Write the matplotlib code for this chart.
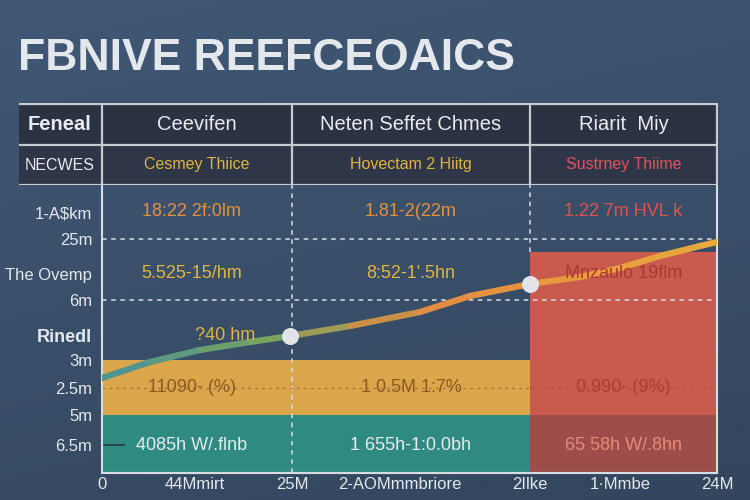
import numpy as np
import matplotlib
matplotlib.use("Agg")
import matplotlib.pyplot as plt
from matplotlib.collections import LineCollection
from matplotlib.colors import LinearSegmentedColormap
from matplotlib.patches import Rectangle

# ---------------- data ----------------
title = "FBNIVE REEFCEOAICS"
header_cols = ["Feneal", "Ceevifen", "Neten Seffet Chmes", "Riarit  Miy"]
sub_cols = ["NECWES", "Cesmey Thiice", "Hovectam 2 Hiitg", "Sustrney Thiime"]
col_edges = [0.0, 1.9, 4.28, 6.15]          # x positions of column boundaries

y_tick_pos = [2.61, 2.34, 1.99, 1.73, 1.38, 1.13, 0.85, 0.58, 0.28]
y_tick_lab = ["1-A$km", "25m", "The Ovemp", "6m", "Rinedl", "3m", "2.5m", "5m", "6.5m"]
x_tick_pos = [0.0, 0.93, 1.9, 2.98, 4.28, 5.18, 6.15]
x_tick_lab = ["0", "44Mmirt", "25M", "2-AOMmmbriore", "2Ilke", "1\u00b7Mmbe", "24M"]
x_tick_marks = [0.0, 4.28, 6.15]

line_x = [0.0, 0.48, 0.98, 1.48, 1.88, 2.48, 3.18, 3.68, 4.28, 4.78, 5.18, 5.58, 5.98, 6.15]
line_y = [0.95, 1.11, 1.23, 1.31, 1.37, 1.47, 1.61, 1.77, 1.89, 1.96, 2.05, 2.17, 2.27, 2.31]
marker_x = [1.88, 4.28]
marker_y = [1.37, 1.89]

band_yellow = (0.58, 1.13)
band_teal = (0.0, 0.58)
red_top = 2.21
dash_h = [2.34, 1.73]

row_vals = {
    2.61: ["18:22 2f:0lm", "1.81-2(22m", "1.22 7m HVL k"],
    1.99: ["5.525-15/hm", "8:52-1'.5hn", "Mnzaulo 19flm"],
    0.85: ["11090- (%)", "1 0.5M 1:7%", "0.990- (9%)"],
    0.28: ["4085h W/.flnb", "1 655h-1:0.0bh", "65 58h W/.8hn"],
}
row_colors = {
    2.61: ["#e5903f", "#e5903f", "#e2524a"],
    1.99: ["#e0b440", "#e0b440", "#ad3833"],
    0.85: ["#8a5a20", "#8a5a20", "#b03a36"],
    0.28: ["#e6ecec", "#e6ecec", "#e88a78"],
}
mid_label = "?40 hm"

# ---------------- figure ----------------
plt.rcParams['font.family'] = ['Liberation Sans', 'DejaVu Sans']
fig = plt.figure(figsize=(7.5, 5), dpi=100)

# background gradient
bg = fig.add_axes([0, 0, 1, 1], zorder=-10)
gy, gx = np.mgrid[0:1:200j, 0:1:300j]
c_top = np.array([0x40, 0x58, 0x76]) / 255
c_bot = np.array([0x33, 0x46, 0x5d]) / 255
t = (0.75 * gy + 0.25 * gx)[..., None]
img = c_top * (1 - t) + c_bot * t
bg.imshow(img, aspect='auto', extent=[0, 1, 0, 1], origin='upper')
bg.axis('off')

fig.text(18 / 750, 1 - 58 / 500, title, fontsize=32, fontweight='bold',
         color='#e4e8ec', va='center', ha='left')

# ---------------- main axes ----------------
L, R, T, B = 102, 717, 185, 473
ax = fig.add_axes([L / 750, 1 - B / 500, (R - L) / 750, (B - T) / 500])
ax.set_xlim(0, 6.15)
ax.set_ylim(0, 2.88)
ax.patch.set_alpha(0)

# bands
ax.add_patch(Rectangle((col_edges[0], band_yellow[0]), col_edges[2] - col_edges[0],
                       band_yellow[1] - band_yellow[0], color='#dba54c', zorder=1, lw=0))
ax.add_patch(Rectangle((col_edges[0], band_teal[0]), col_edges[2] - col_edges[0],
                       band_teal[1] - band_teal[0], color='#2f8a82', zorder=1, lw=0))
ax.add_patch(Rectangle((col_edges[2], band_teal[1]), col_edges[3] - col_edges[2],
                       red_top - band_teal[1], color='#c85b4e', zorder=1, lw=0))
ax.add_patch(Rectangle((col_edges[2], 0), col_edges[3] - col_edges[2],
                       band_teal[1], color='#9d4d4a', zorder=1, lw=0))

# grid dashes
for yv in dash_h:
    ax.plot([0, 6.15], [yv, yv], ls=(0, (3, 3)), color='#d8dde4', lw=1.1, zorder=2)
ax.plot([1.9, 1.9], [0, 2.88], ls=(0, (3, 3)), color='#d8dde4', lw=1.1, zorder=2)
ax.plot([4.28, 4.28], [red_top, 2.88], ls=(0, (3, 3)), color='#d8dde4', lw=1.1, zorder=2)
ax.plot([0, 4.28], [0.85, 0.85], ls=(0, (2, 3)), color='#a8743a', lw=1.0, zorder=2)
ax.plot([4.28, 6.15], [0.85, 0.85], ls=(0, (2, 3)), color='#b84a44', lw=1.0, zorder=2)
ax.plot([0.02, 0.22], [0.28, 0.28], color='#1f3a45', lw=1.2, zorder=2)

# line with colour gradient
xs = np.array(line_x)
ys = np.array(line_y)
pts = np.column_stack([xs, ys]).reshape(-1, 1, 2)
segs = np.concatenate([pts[:-1], pts[1:]], axis=1)
cmap = LinearSegmentedColormap.from_list(
    'lc', ['#4f9490', '#7aa35e', '#e28a42', '#e79a40', '#eaa83c'])
lc = LineCollection(segs, cmap=cmap, linewidths=4.5, capstyle='round', zorder=4)
lc.set_array((xs[:-1] + xs[1:]) / 2 / 6.15)
ax.add_collection(lc)
ax.scatter(marker_x, marker_y, s=150, color='#e2e4e8', zorder=5, lw=0)

# cell texts
centers = [(col_edges[i] + col_edges[i + 1]) / 2 for i in range(3)]
for yv, vals in row_vals.items():
    for i, v in enumerate(vals):
        ax.text(centers[i] - (0.05 if i == 0 else 0), yv, v, color=row_colors[yv][i],
                fontsize=13, ha='center', va='center', zorder=6)
ax.text(1.23, 1.38, mid_label, color='#e0b440', fontsize=13, ha='center', va='center', zorder=6)

# axes styling
ax.spines['top'].set_visible(False)
for s in ['left', 'right', 'bottom']:
    ax.spines[s].set_color('#d8dde4')
    ax.spines[s].set_linewidth(1.5)
ax.spines['bottom'].set_zorder(7)
ax.set_yticks(y_tick_pos)
ax.set_yticklabels(y_tick_lab)
ax.set_xticks(x_tick_pos)
ax.set_xticklabels(x_tick_lab)
ax.set_xticks(x_tick_marks, minor=True)
ax.tick_params(axis='y', length=0, pad=7, labelsize=12, labelcolor='#e4e8ec')
ax.tick_params(axis='x', which='major', length=0, pad=3,
               labelsize=12, labelcolor='#e4e8ec')
ax.tick_params(axis='x', which='minor', length=7, width=1.5, color='#d8dde4')
for lab in ax.get_yticklabels():
    if lab.get_text() == "Rinedl":
        lab.set_fontweight('bold')
        lab.set_fontsize(13)

# ---------------- header table ----------------
TL, TT, TB = 19, 103, 185
tab = fig.add_axes([TL / 750, 1 - TB / 500, (R + 1 - TL) / 750, (TB - TT) / 500])
tab.set_xlim(-0.83, 6.16)
tab.set_ylim(0, 82)
tab.axis('off')
tab.add_patch(Rectangle((-0.83, 38), 6.99, 44, color='#2b3343', lw=0))
tab.add_patch(Rectangle((-0.83, 0), 6.99, 38, color='#2e3647', lw=0))
for yv in [81.5, 40, 0.5]:
    tab.plot([-0.83, 6.16], [yv, yv], color='#c8ccd2', lw=1.6)
for xv in [0.0, 1.9, 4.28, 6.15]:
    tab.plot([xv, xv], [0, 82], color='#c8ccd2', lw=1.6)
hx = [-0.42] + centers
sub_colors = ['#e8ecef', '#e0b440', '#e0b440', '#e2525a']
for i in range(4):
    tab.text(hx[i], 60, header_cols[i], color='#e8ecef', fontsize=14.5,
             ha='center', va='center', fontweight='bold' if i == 0 else 'normal')
    tab.text(hx[i], 20, sub_cols[i], color=sub_colors[i], fontsize=11.5,
             ha='center', va='center')

fig.savefig("out.png", dpi=100)
